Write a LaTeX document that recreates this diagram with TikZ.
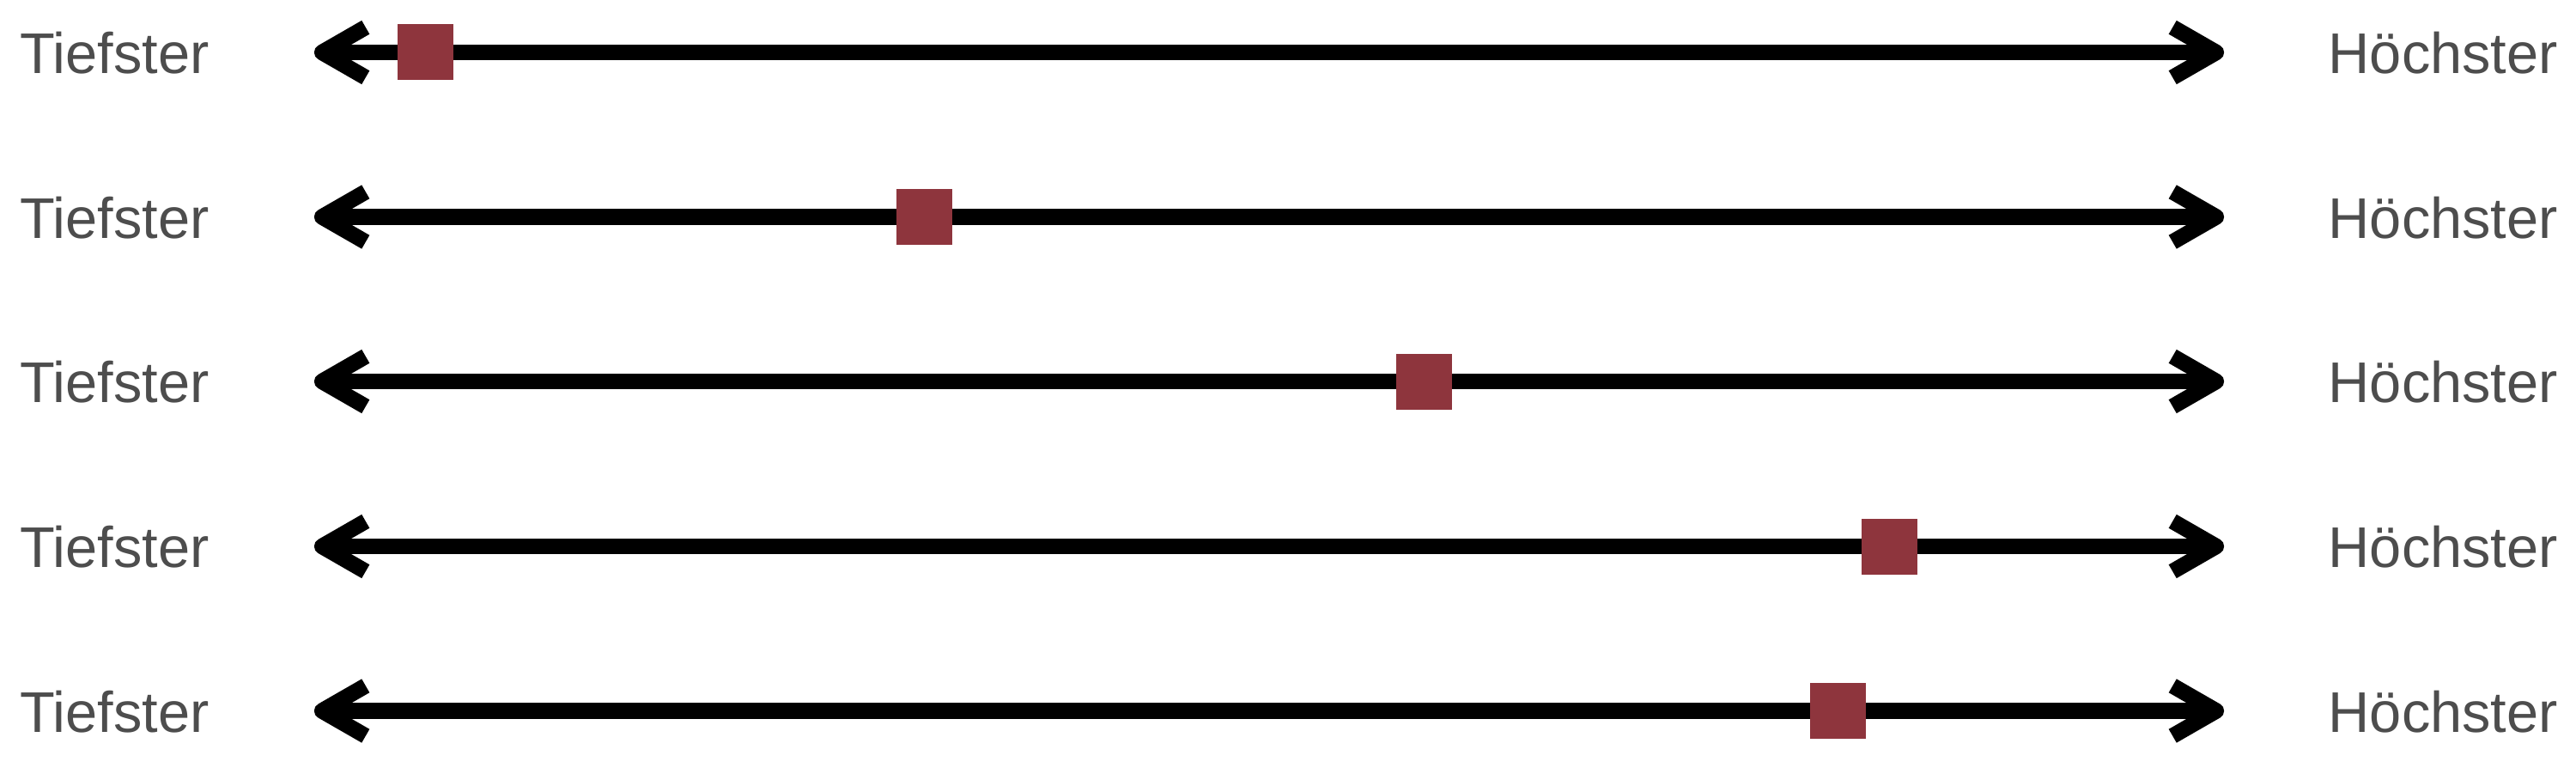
\documentclass[tikz,border=0pt]{standalone}
\usepackage{fontspec}
\setmainfont{Liberation Sans}
\definecolor{marker}{HTML}{8E353D}
\definecolor{labelgray}{HTML}{4D4D4D}
\tikzset{
  scale line/.style={line width=0.183cm, black},
  barb/.style={line width=0.183cm, black, line join=round, line cap=butt},
  marker box/.style={fill=marker, draw=none, minimum size=0.65cm, inner sep=0pt, outer sep=0pt},
  end label/.style={text=labelgray, inner sep=0pt, font=\fontsize{19}{22}\selectfont},
}
\begin{document}
\begin{tikzpicture}
\useasboundingbox (0,0) rectangle (30,9);
\foreach \i/\y/\x in {1/8.39/4.955, 2/6.475/10.765, 3/4.56/16.585, 4/2.64/22.005, 5/0.725/21.40}{
  \coordinate (L\i) at (3.75,\y);
  \coordinate (R\i) at (25.81,\y);
  \node[end label, anchor=base west] (lo\i) at (0.225,\y-0.247) {Tiefster};
  \node[end label, anchor=base west] (hi\i) at (27.11,\y-0.247) {Höchster};
  \draw[scale line] (L\i) -- (R\i);
  \draw[barb] (L\i) ++(0.508,0.292) -- (L\i) -- ++(0.508,-0.292);
  \draw[barb] (R\i) ++(-0.508,0.292) -- (R\i) -- ++(-0.508,-0.292);
  \node[marker box] (m\i) at (\x,\y) {};
}
\end{tikzpicture}
\end{document}
